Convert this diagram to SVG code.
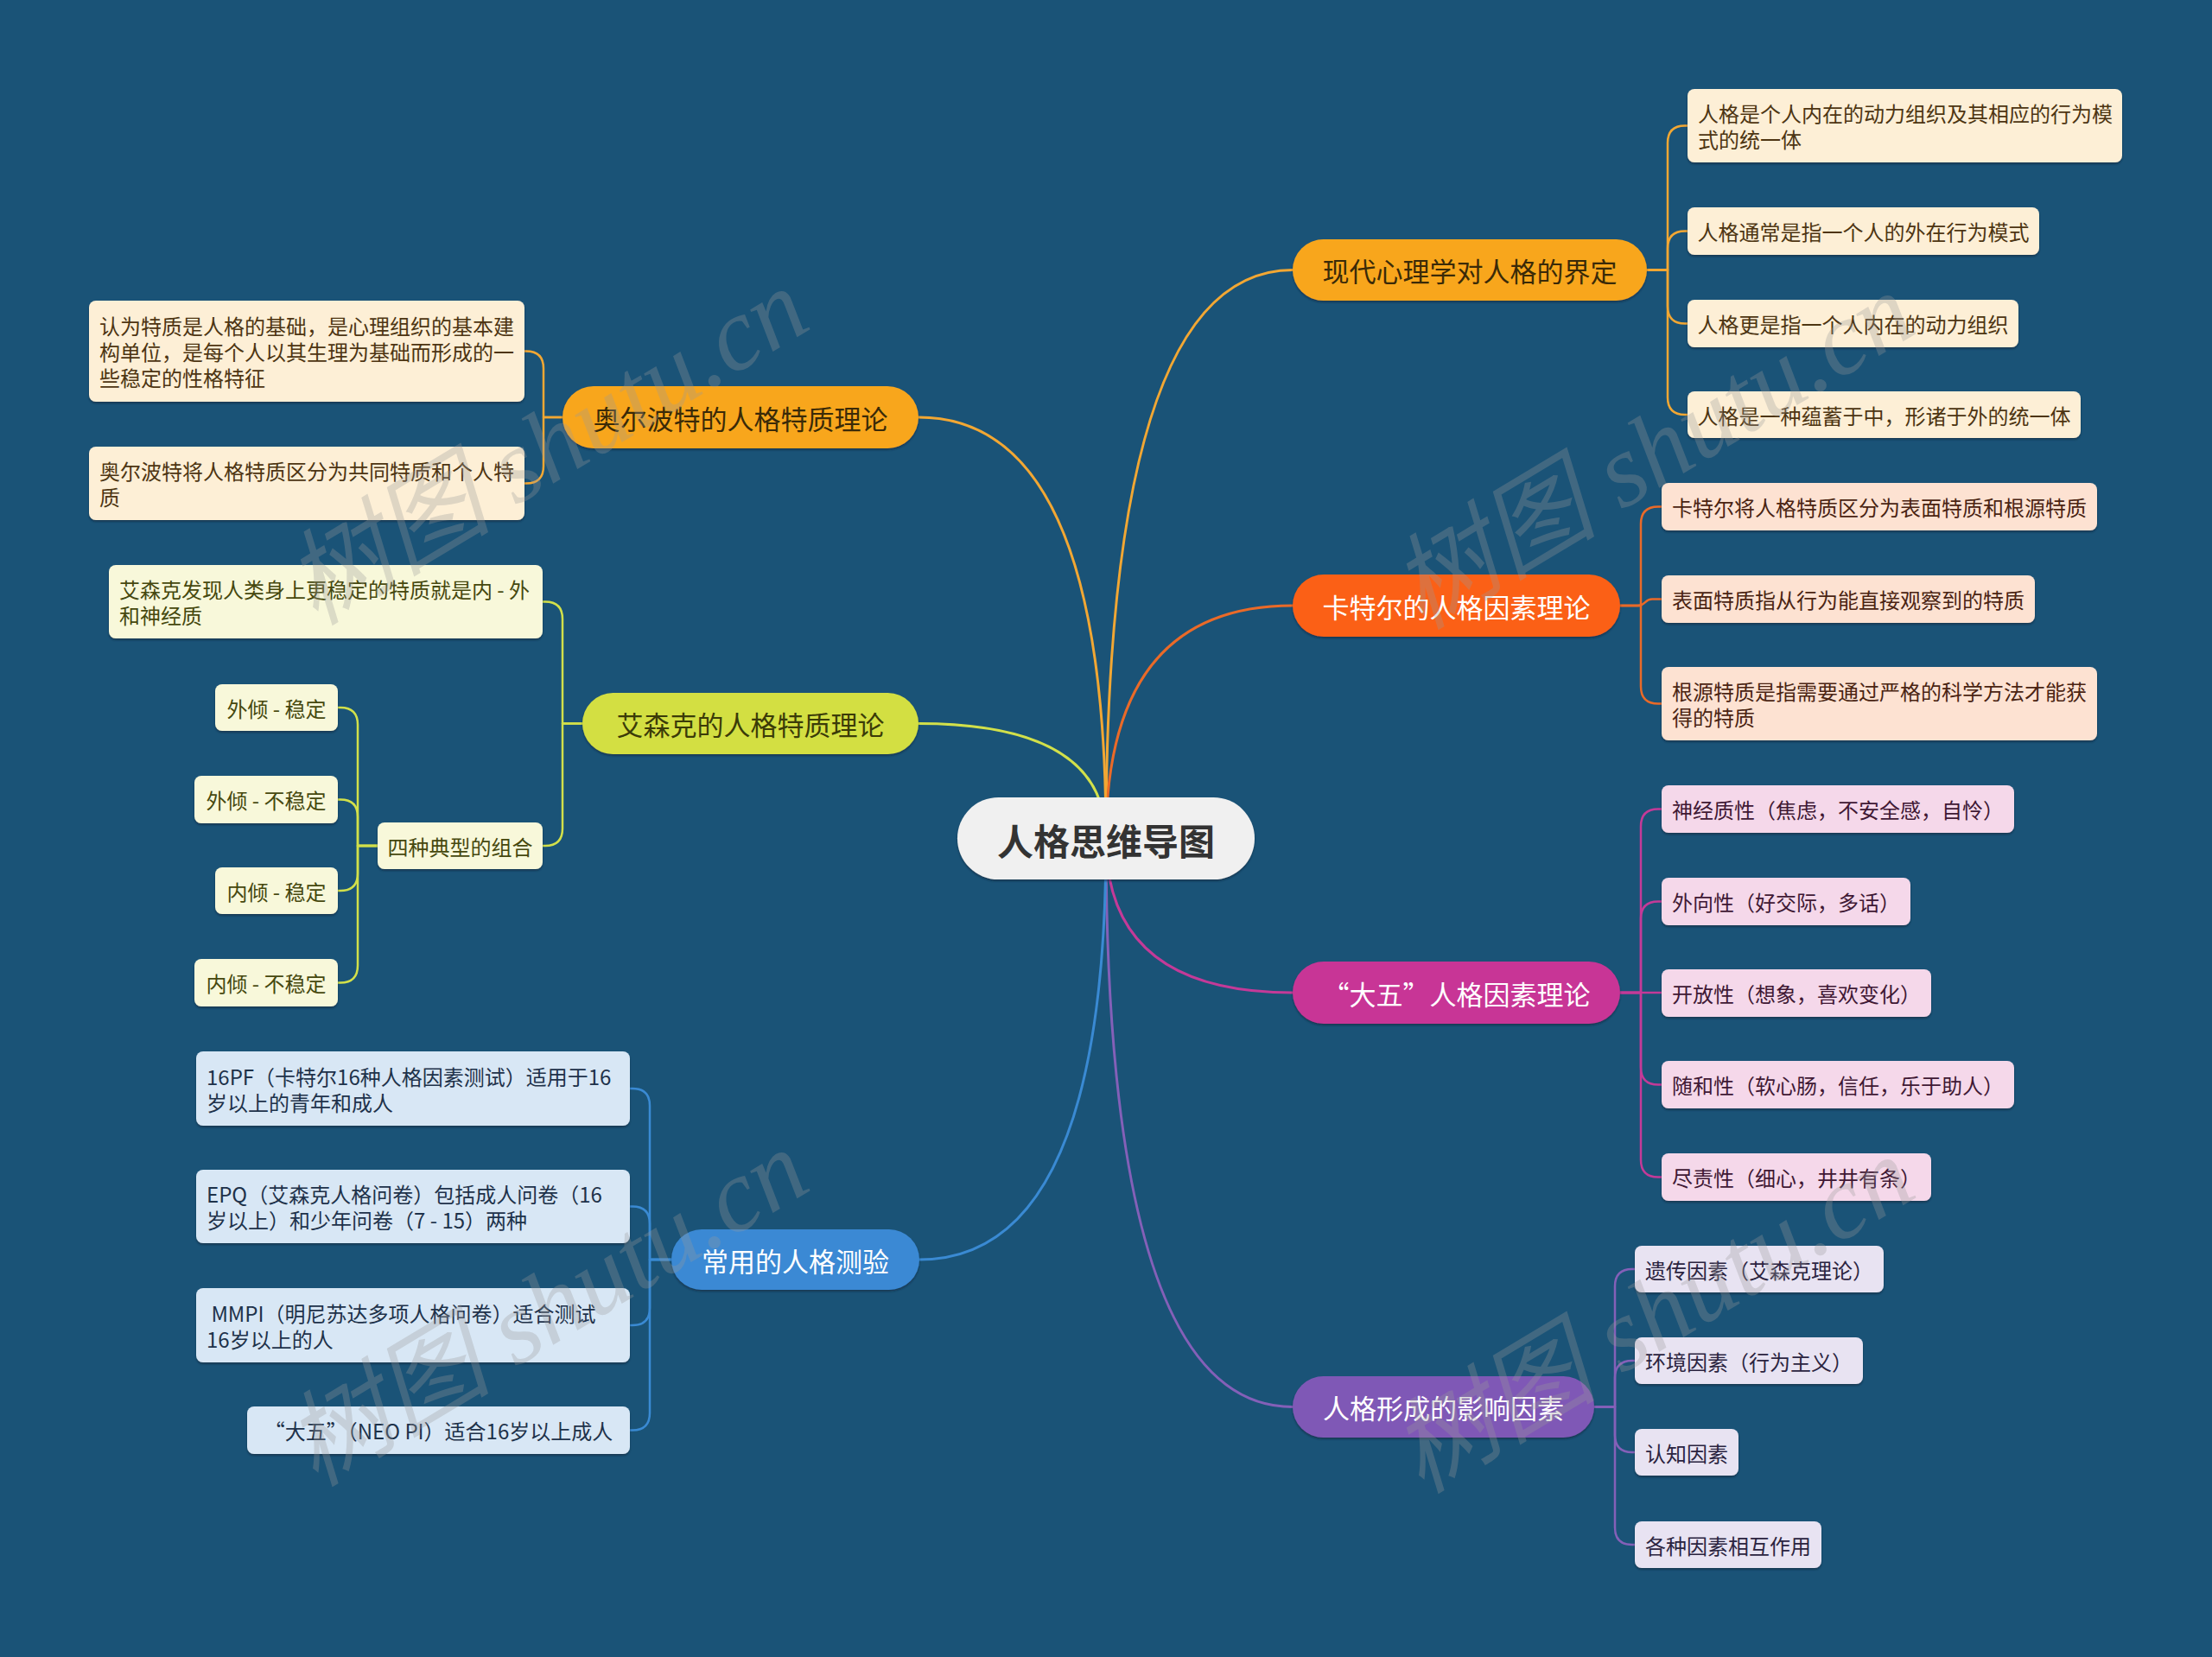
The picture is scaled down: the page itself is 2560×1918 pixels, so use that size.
<svg xmlns="http://www.w3.org/2000/svg" width="2560" height="1918" viewBox="0 0 2560 1918">
<defs>
<filter id="sh" x="-10%" y="-20%" width="120%" height="150%"><feDropShadow dx="0" dy="2" stdDeviation="1.2" flood-color="#08263a" flood-opacity="0.6"/></filter>
</defs>
<style>
text{font-family:"Noto Sans CJK SC","Noto Sans",sans-serif;dominant-baseline:central}
.c{fill:none;stroke-width:3;stroke-linecap:round}
.k{fill:none;stroke-width:2.5;stroke-linejoin:round}
rect{filter:url(#sh)}
.root rect{fill:#f0f0f0}
.root text{font-size:42px;font-weight:bold;fill:#333333;text-anchor:middle}
.main text{font-size:31px;text-anchor:middle}
.leaf text{font-size:24px}
.mid{text-anchor:middle}
.o .main rect{fill:#f8a61f}.o .main text{fill:#3a2a08}.o .leaf rect{fill:#fdefd6}.o .leaf text{fill:#4d3512}
.r .main rect{fill:#fb6112}.r .main text{fill:#ffffff}.r .leaf rect{fill:#fde2d2}.r .leaf text{fill:#4a2412}
.m .main rect{fill:#c83596}.m .main text{fill:#ffffff}.m .leaf rect{fill:#f5d8ea}.m .leaf text{fill:#3f1834}
.p .main rect{fill:#7f59b6}.p .main text{fill:#ffffff}.p .leaf rect{fill:#e8e3f2}.p .leaf text{fill:#2b2440}
.y .main rect{fill:#d3df42}.y .main text{fill:#3b3b08}.y .leaf rect{fill:#f8f8da}.y .leaf text{fill:#46480e}
.b .main rect{fill:#3b89d4}.b .main text{fill:#ffffff}.b .leaf rect{fill:#d8e7f5}.b .leaf text{fill:#1e324a}
.wm{font-family:"Liberation Serif","Noto Sans CJK SC",serif;font-style:italic;font-size:120px;fill:#9a9a9a;opacity:0.3;dominant-baseline:auto}
</style>
<rect x="0" y="0" width="2560" height="1918" fill="#1a5377" style="filter:none"/>

<g id="connectors">
<path class="c" stroke="#f2a733" d="M1280,971 Q1280,312.5 1496,312.5"/>
<path class="c" stroke="#ea6a28" d="M1280,971 Q1280,701 1496,701"/>
<path class="c" stroke="#c43a98" d="M1280,971 Q1280,1149 1496,1149"/>
<path class="c" stroke="#8460b8" d="M1280,971 Q1280,1628.5 1496,1628.5"/>
<path class="c" stroke="#f2a733" d="M1280,971 Q1280,483 1063,483"/>
<path class="c" stroke="#d2e04a" d="M1280,971 Q1280,837.5 1063,837.5"/>
<path class="c" stroke="#3a8ad3" d="M1280,971 Q1280,1458 1064,1458"/>

<g stroke="#f2a733">
<path class="k" d="M1906,312.5 H1930 V165.5 Q1930,145.5 1950,145.5 H1953"/>
<path class="k" d="M1906,312.5 H1930 V287.5 Q1930,267.5 1950,267.5 H1953"/>
<path class="k" d="M1906,312.5 H1930 V354.5 Q1930,374.5 1950,374.5 H1953"/>
<path class="k" d="M1906,312.5 H1930 V460 Q1930,480 1950,480 H1953"/>
<path class="k" d="M651,483 H629 V426.5 Q629,406.5 609,406.5 H607"/>
<path class="k" d="M651,483 H629 V539.5 Q629,559.5 609,559.5 H607"/>
</g>
<g stroke="#ea6a28">
<path class="k" d="M1875,701 H1899 V606.5 Q1899,586.5 1919,586.5 H1923"/>
<path class="k" d="M1875,701 H1895 C1905,701 1903,693.5 1912,693.5 H1923"/>
<path class="k" d="M1875,701 H1899 V794.5 Q1899,814.5 1919,814.5 H1923"/>
</g>
<g stroke="#c43a98">
<path class="k" d="M1875,1149 H1899 V956.5 Q1899,936.5 1919,936.5 H1923"/>
<path class="k" d="M1875,1149 H1899 V1063.5 Q1899,1043.5 1919,1043.5 H1923"/>
<path class="k" d="M1875,1149 H1923"/>
<path class="k" d="M1875,1149 H1899 V1235.5 Q1899,1255.5 1919,1255.5 H1923"/>
<path class="k" d="M1875,1149 H1899 V1342.5 Q1899,1362.5 1919,1362.5 H1923"/>
</g>
<g stroke="#8460b8">
<path class="k" d="M1845,1628.5 H1869 V1489 Q1869,1469 1889,1469 H1892"/>
<path class="k" d="M1845,1628.5 H1869 V1595 Q1869,1575 1889,1575 H1892"/>
<path class="k" d="M1845,1628.5 H1869 V1661 Q1869,1681 1889,1681 H1892"/>
<path class="k" d="M1845,1628.5 H1869 V1768 Q1869,1788 1889,1788 H1892"/>
</g>
<g stroke="#d2e04a">
<path class="k" d="M674,837.5 H651 V716.5 Q651,696.5 631,696.5 H628"/>
<path class="k" d="M674,837.5 H651 V959 Q651,979 631,979 H628"/>
<path class="k" d="M437,979 H414 V839 Q414,819 394,819 H391"/>
<path class="k" d="M437,979 H414 V945.5 Q414,925.5 394,925.5 H391"/>
<path class="k" d="M437,979 H414 V1011 Q414,1031 394,1031 H391"/>
<path class="k" d="M437,979 H414 V1117.5 Q414,1137.5 394,1137.5 H391"/>
</g>
<g stroke="#3a8ad3">
<path class="k" d="M777,1458 H752 V1280 Q752,1260 732,1260 H729"/>
<path class="k" d="M777,1458 H752 V1416.5 Q752,1396.5 732,1396.5 H729"/>
<path class="k" d="M777,1458 H752 V1514 Q752,1534 732,1534 H729"/>
<path class="k" d="M777,1458 H752 V1635.5 Q752,1655.5 732,1655.5 H729"/>
</g>
</g>

<g id="root" class="root">
<rect x="1108" y="923" width="344" height="95" rx="47.5"/>
<text x="1280" y="971">人格思维导图</text>
</g>

<g class="o">
<g id="n-xiandai" class="main"><rect x="1496" y="277" width="410" height="71" rx="35.5"/><text x="1701" y="312.5">现代心理学对人格的界定</text></g>
<g id="n-xd1" class="leaf"><rect x="1953" y="103" width="503" height="85" rx="8"/><text x="1965" y="130.5">人格是个人内在的动力组织及其相应的行为模</text><text x="1965" y="160.5">式的统一体</text></g>
<g id="n-xd2" class="leaf"><rect x="1953" y="240" width="407" height="55" rx="8"/><text class="mid" x="2156.5" y="267.5">人格通常是指一个人的外在行为模式</text></g>
<g id="n-xd3" class="leaf"><rect x="1953" y="347" width="383" height="55" rx="8"/><text class="mid" x="2144.5" y="374.5">人格更是指一个人内在的动力组织</text></g>
<g id="n-xd4" class="leaf"><rect x="1953" y="453" width="455" height="54" rx="8"/><text class="mid" x="2180.5" y="480">人格是一种蕴蓄于中，形诸于外的统一体</text></g>

<g id="n-allport" class="main"><rect x="651" y="447" width="412" height="72" rx="36"/><text x="857" y="483">奥尔波特的人格特质理论</text></g>
<g id="n-ap1" class="leaf"><rect x="103" y="348" width="504" height="117" rx="8"/><text x="115" y="376.5">认为特质是人格的基础，是心理组织的基本建</text><text x="115" y="406.5">构单位，是每个人以其生理为基础而形成的一</text><text x="115" y="436.5">些稳定的性格特征</text></g>
<g id="n-ap2" class="leaf"><rect x="103" y="517" width="504" height="85" rx="8"/><text x="115" y="544.5">奥尔波特将人格特质区分为共同特质和个人特</text><text x="115" y="574.5">质</text></g>
</g>

<g class="r">
<g id="n-cattell" class="main"><rect x="1496" y="665" width="379" height="72" rx="36"/><text x="1685.5" y="701">卡特尔的人格因素理论</text></g>
<g id="n-ct1" class="leaf"><rect x="1923" y="559" width="504" height="55" rx="8"/><text class="mid" x="2175" y="586.5">卡特尔将人格特质区分为表面特质和根源特质</text></g>
<g id="n-ct2" class="leaf"><rect x="1923" y="666" width="432" height="55" rx="8"/><text class="mid" x="2139" y="693.5">表面特质指从行为能直接观察到的特质</text></g>
<g id="n-ct3" class="leaf"><rect x="1923" y="772" width="504" height="85" rx="8"/><text x="1935" y="799.5">根源特质是指需要通过严格的科学方法才能获</text><text x="1935" y="829.5">得的特质</text></g>
</g>

<g class="m">
<g id="n-bigfive" class="main"><rect x="1496" y="1113" width="379" height="72" rx="36"/><text x="1685.5" y="1149">“大五”人格因素理论</text></g>
<g id="n-bf1" class="leaf"><rect x="1923" y="909" width="408" height="55" rx="8"/><text class="mid" x="2127" y="936.5">神经质性（焦虑，不安全感，自怜）</text></g>
<g id="n-bf2" class="leaf"><rect x="1923" y="1016" width="288" height="55" rx="8"/><text class="mid" x="2067" y="1043.5">外向性（好交际，多话）</text></g>
<g id="n-bf3" class="leaf"><rect x="1923" y="1122" width="312" height="55" rx="8"/><text class="mid" x="2079" y="1149.5">开放性（想象，喜欢变化）</text></g>
<g id="n-bf4" class="leaf"><rect x="1923" y="1228" width="408" height="55" rx="8"/><text class="mid" x="2127" y="1255.5">随和性（软心肠，信任，乐于助人）</text></g>
<g id="n-bf5" class="leaf"><rect x="1923" y="1335" width="312" height="55" rx="8"/><text class="mid" x="2079" y="1362.5">尽责性（细心，井井有条）</text></g>
</g>

<g class="p">
<g id="n-factors" class="main"><rect x="1496" y="1593" width="349" height="71" rx="35.5"/><text x="1670.5" y="1628.5">人格形成的影响因素</text></g>
<g id="n-f1" class="leaf"><rect x="1892" y="1442" width="288" height="54" rx="8"/><text class="mid" x="2036" y="1469">遗传因素（艾森克理论）</text></g>
<g id="n-f2" class="leaf"><rect x="1892" y="1548" width="264" height="54" rx="8"/><text class="mid" x="2024" y="1575">环境因素（行为主义）</text></g>
<g id="n-f3" class="leaf"><rect x="1892" y="1654" width="120" height="54" rx="8"/><text class="mid" x="1952" y="1681">认知因素</text></g>
<g id="n-f4" class="leaf"><rect x="1892" y="1761" width="216" height="54" rx="8"/><text class="mid" x="2000" y="1788">各种因素相互作用</text></g>
</g>

<g class="y">
<g id="n-eysenck" class="main"><rect x="674" y="802" width="389" height="71" rx="35.5"/><text x="868.5" y="837.5">艾森克的人格特质理论</text></g>
<g id="n-ey1" class="leaf"><rect x="126" y="654" width="502" height="85" rx="8"/><text x="138" y="681.5">艾森克发现人类身上更稳定的特质就是内 - 外</text><text x="138" y="711.5">和神经质</text></g>
<g id="n-ey2" class="leaf"><rect x="437" y="952" width="191" height="54" rx="8"/><text class="mid" x="532.5" y="979">四种典型的组合</text></g>
<g id="n-ey21" class="leaf"><rect x="249" y="792" width="142" height="54" rx="8"/><text class="mid" x="320" y="819">外倾 - 稳定</text></g>
<g id="n-ey22" class="leaf"><rect x="225" y="898" width="166" height="55" rx="8"/><text class="mid" x="308" y="925.5">外倾 - 不稳定</text></g>
<g id="n-ey23" class="leaf"><rect x="249" y="1004" width="142" height="54" rx="8"/><text class="mid" x="320" y="1031">内倾 - 稳定</text></g>
<g id="n-ey24" class="leaf"><rect x="225" y="1110" width="166" height="55" rx="8"/><text class="mid" x="308" y="1137.5">内倾 - 不稳定</text></g>
</g>

<g class="b">
<g id="n-tests" class="main"><rect x="777" y="1423" width="287" height="70" rx="35"/><text x="920.5" y="1458">常用的人格测验</text></g>
<g id="n-t1" class="leaf"><rect x="227" y="1217" width="502" height="86" rx="8"/><text x="239" y="1245">16PF（卡特尔16种人格因素测试）适用于16</text><text x="239" y="1275">岁以上的青年和成人</text></g>
<g id="n-t2" class="leaf"><rect x="227" y="1354" width="502" height="85" rx="8"/><text x="239" y="1381.5">EPQ（艾森克人格问卷）包括成人问卷（16</text><text x="239" y="1411.5">岁以上）和少年问卷（7 - 15）两种</text></g>
<g id="n-t3" class="leaf"><rect x="227" y="1491" width="502" height="86" rx="8"/><text x="239" y="1519" xml:space="preserve"> MMPI（明尼苏达多项人格问卷）适合测试</text><text x="239" y="1549">16岁以上的人</text></g>
<g id="n-t4" class="leaf"><rect x="286" y="1628" width="443" height="55" rx="8"/><text class="mid" x="507.5" y="1655.5">“大五”（NEO PI）适合16岁以上成人</text></g>
</g>

<g id="watermark">
<text class="wm" x="365" y="725" transform="rotate(-31 365 725)">树图 shutu.cn</text>
<text class="wm" x="1645" y="730" transform="rotate(-31 1645 730)">树图 shutu.cn</text>
<text class="wm" x="365" y="1722" transform="rotate(-31 365 1722)">树图 shutu.cn</text>
<text class="wm" x="1645" y="1730" transform="rotate(-31 1645 1730)">树图 shutu.cn</text>
</g>
</svg>
